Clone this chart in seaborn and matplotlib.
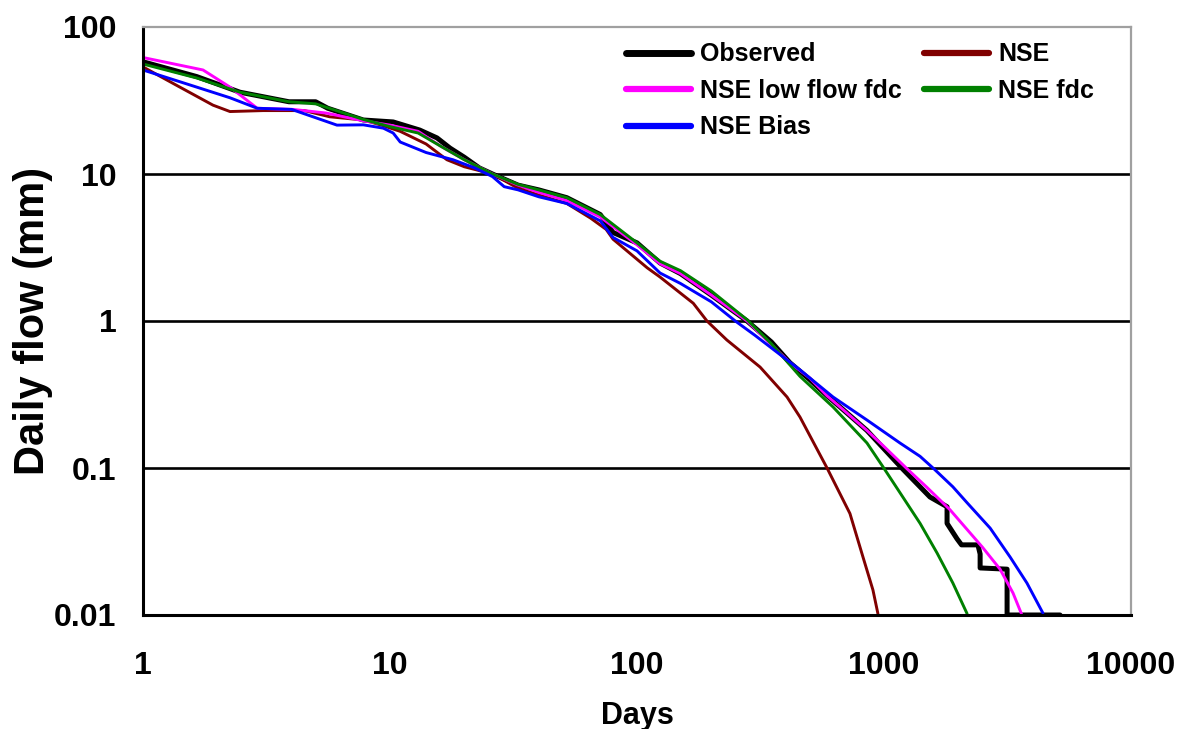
import numpy as np
import pandas as pd
import matplotlib
matplotlib.use("Agg")
import matplotlib.pyplot as plt
from matplotlib.lines import Line2D
import seaborn as sns

# ---- data ----
obs_x = [1, 1.65, 2.47, 3.9, 5.0, 5.6, 7.8, 10.3, 13.2, 15.5, 17.5, 20, 23, 26, 33, 40, 52, 71, 80,
         100, 124, 150, 200, 279, 350, 416, 500, 588, 664, 853, 1000, 1180, 1535, 1800, 1800, 1975,
         2060, 2400, 2450, 2450, 3150, 3150, 5160]
obs_y = [58, 46, 36, 31, 31, 28, 23.3, 22.6, 19.9, 17.6, 15, 13, 11, 10, 8.4, 7.8, 6.9, 5.3, 4.0,
         3.4, 2.48, 2.1, 1.5, 1.0, 0.72, 0.52, 0.40, 0.31, 0.26, 0.18, 0.135, 0.10, 0.0635, 0.0545,
         0.042, 0.033, 0.030, 0.030, 0.026, 0.0209, 0.0205, 0.01, 0.01]

nse_x = [1, 1.41, 1.92, 2.25, 3.06, 4.5, 5.7, 7.8, 9.4, 11, 14, 17, 20, 26, 33, 40, 52, 65, 75,
         80, 110, 124, 169, 192, 231, 315, 405, 457, 588, 728, 822, 902, 945]
nse_y = [53.5, 39, 29.4, 26.6, 27, 27, 24.5, 23.3, 21.3, 19.5, 16, 12.5, 11.2, 10, 8.0, 7.2, 6.3,
         5.0, 4.2, 3.6, 2.3, 1.99, 1.32, 1.0, 0.743, 0.486, 0.304, 0.222, 0.1, 0.049, 0.0248, 0.0148,
         0.0102]

lowfdc_x = [1, 1.75, 2.25, 2.9, 4.05, 5.5, 7.8, 10, 13, 16, 20, 26, 33, 40, 52, 71, 100, 124, 150,
            200, 279, 416, 500, 588, 664, 853, 1000, 1230, 1490, 1850, 2500, 2950, 3330, 3600]
lowfdc_y = [62, 51, 39, 28, 27.5, 26, 23, 21.5, 19.5, 15.5, 12.5, 10, 8.4, 7.5, 6.6, 5.1, 3.3, 2.45,
            2.1, 1.5, 1.0, 0.52, 0.41, 0.31, 0.26, 0.18, 0.14, 0.1, 0.074, 0.052, 0.029, 0.0205,
            0.0141, 0.0102]

fdc_x = [1, 1.65, 2.47, 3.9, 5, 6.5, 7.8, 10, 13, 16, 20, 26, 33, 40, 52, 71, 100, 124, 150, 200,
         279, 350, 457, 622, 853, 990, 1160, 1400, 1640, 1900, 2170]
fdc_y = [56, 45, 36, 31, 30, 26, 23.5, 21, 19, 15.5, 12.5, 10, 8.5, 7.8, 6.9, 5.3, 3.4, 2.55, 2.2,
         1.6, 1.02, 0.7, 0.42, 0.26, 0.148, 0.102, 0.068, 0.042, 0.0264, 0.0165, 0.0102]

bias_x = [1, 1.65, 2.25, 2.9, 4, 6.1, 7.8, 9.4, 10.3, 11, 14, 18, 22, 26, 29, 33, 40, 52, 71, 80,
          100, 124, 150, 200, 250, 300, 457, 622, 853, 1160, 1400, 1600, 1900, 2170, 2690, 3240,
          3790, 4400]
bias_y = [51, 39, 33, 28, 27.5, 21.5, 21.6, 20.5, 19, 16.5, 14, 12.5, 11, 9.6, 8.2, 7.8, 7.0, 6.3,
          4.8, 3.7, 3.0, 2.12, 1.8, 1.35, 1.0, 0.8, 0.465, 0.304, 0.212, 0.148, 0.12, 0.098, 0.0745,
          0.058, 0.039, 0.0248, 0.0165, 0.0103]

series_names = ["Observed", "NSE", "NSE low flow fdc", "NSE fdc", "NSE Bias"]
series_colors = ["#000000", "#800000", "#FF00FF", "#008000", "#0000FF"]
x_ticks = [1, 10, 100, 1000, 10000]
x_tick_labels = ["1", "10", "100", "1000", "10000"]
y_ticks = [0.01, 0.1, 1, 10, 100]
y_tick_labels = ["0.01", "0.1", "1", "10", "100"]

frames = []
for name, xs, ys in zip(series_names,
                        [obs_x, nse_x, lowfdc_x, fdc_x, bias_x],
                        [obs_y, nse_y, lowfdc_y, fdc_y, bias_y]):
    frames.append(pd.DataFrame({"Days": xs, "Flow": ys, "Series": name}))
df = pd.concat(frames, ignore_index=True)

# ---- style ----
sns.set_style("white")
plt.rcParams["font.family"] = ["Liberation Sans", "DejaVu Sans"]
plt.rcParams["font.weight"] = "bold"
plt.rcParams["text.color"] = "black"
plt.rcParams["axes.labelcolor"] = "black"
plt.rcParams["xtick.color"] = "black"
plt.rcParams["ytick.color"] = "black"

fig = plt.figure(figsize=(11.86, 7.29), dpi=100)
ax = fig.add_axes([143 / 1186, 1 - 615 / 729, (1131 - 143) / 1186, (615 - 27) / 729])

palette = dict(zip(series_names, series_colors))
widths = {"Observed": 3.6, "NSE": 2.1, "NSE low flow fdc": 2.1, "NSE fdc": 2.1, "NSE Bias": 2.1}

for name in series_names:
    sub = df[df["Series"] == name]
    sns.lineplot(data=sub, x="Days", y="Flow", color=palette[name], linewidth=widths[name],
                 sort=False, estimator=None, ax=ax, legend=False)

ax.set_xscale("log")
ax.set_yscale("log")
ax.set_xlim(1, 10000)
ax.set_ylim(0.01, 100)

# horizontal grid lines
for yv in [0.1, 1, 10]:
    ax.axhline(yv, color="black", linewidth=1.9, zorder=0.5)

ax.set_xticks(x_ticks)
ax.set_xticklabels(x_tick_labels)
ax.set_yticks(y_ticks)
ax.set_yticklabels(y_tick_labels)
ax.minorticks_off()
ax.tick_params(axis="x", direction="in", length=6, width=1.5, labelsize=23, pad=26, color="black",
               labelcolor="black")
ax.tick_params(axis="y", direction="in", length=6, width=1.5, labelsize=23, pad=19, color="black",
               labelcolor="black")
for lbl in ax.get_xticklabels() + ax.get_yticklabels():
    lbl.set_fontweight("bold")

ax.set_xlabel("Days", fontsize=22, fontweight="bold", labelpad=14, color="black")
ax.set_ylabel("Daily flow (mm)", fontsize=30, fontweight="bold", labelpad=1, color="black")

for side in ["left", "bottom"]:
    ax.spines[side].set_color("black")
    ax.spines[side].set_linewidth(2.2)
for side in ["top", "right"]:
    ax.spines[side].set_color("#a0a0a0")
    ax.spines[side].set_linewidth(1.6)

# legend: row-major order Observed, NSE / NSE low flow fdc, NSE fdc / NSE Bias
order = ["Observed", "NSE low flow fdc", "NSE Bias", "NSE", "NSE fdc"]
handles = [Line2D([], [], color=palette[n], linewidth=5 if n == "Observed" else 4.5) for n in order]
leg = ax.legend(handles, order, ncol=2, loc="upper left", bbox_to_anchor=(0.476, 0.995),
                frameon=False, borderpad=0, handlelength=2.6, handletextpad=0.36,
                columnspacing=0.9, labelspacing=0.5,
                prop={"family": ["Liberation Sans", "DejaVu Sans"], "weight": "bold", "size": 18})
for t in leg.get_texts():
    t.set_color("black")

fig.savefig("out.png", dpi=100)
